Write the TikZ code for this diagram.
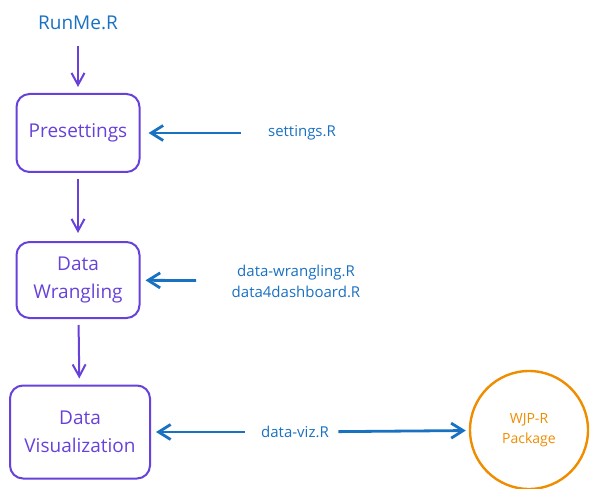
\documentclass[tikz,border=0pt]{standalone}
\usepackage{fontspec}
\setmainfont{Open Sans}
\usetikzlibrary{arrows.meta,positioning}
\definecolor{flowpurple}{HTML}{6741D9}
\definecolor{flowblue}{HTML}{1971C2}
\definecolor{floworange}{HTML}{F08C00}
\tikzstyle{stepnode}=[draw=flowpurple, text=flowpurple, line width=2pt, rounded corners=13pt, align=center, font=\fontsize{19}{28}\selectfont]
\tikzstyle{filenode}=[text=flowblue, align=center, font=\fontsize{15}{21}\selectfont]
\tikzstyle{pkgnode}=[draw=floworange, text=floworange, circle, line width=2.4pt, minimum size=118pt, align=center, font=\fontsize{14}{20}\selectfont]
\tikzstyle{stepFlow}=[line width=2pt, flowpurple, -{Straight Barb[length=12pt,width=13pt]}]
\tikzstyle{fileFlow}=[line width=2.8pt, flowblue, -{Straight Barb[length=12pt,width=15pt]}]

\begin{document}
\begin{tikzpicture}[x=1pt, y=-1pt]
    \useasboundingbox (0,0) rectangle (594,489);

    % nodes
    \node[text=flowblue, font=\fontsize{19}{25}\selectfont] (runme) at (78, 23) {RunMe.R};
    \node[stepnode, minimum width=123pt, minimum height=78pt] (presettings) at (78, 133) {Presettings};
    \node[stepnode, minimum width=123pt, minimum height=76pt] (wrangling) at (78, 280) {Data\\Wrangling};
    \node[stepnode, minimum width=140pt, minimum height=93pt] (visualization) at (80, 432) {Data\\Visualization};

    \node[filenode] (settings) at (302, 133) {settings.R};
    \node[filenode] (wranglingfiles) at (296, 281) {data-wrangling.R\\data4dashboard.R};
    \node[filenode] (vizfile) at (295, 432) {data-viz.R};
    \node[pkgnode] (wjpr) at (529, 430) {WJP-R\\Package};

    % Arcs
    \draw[stepFlow, shorten <=13pt, shorten >=6pt] (runme) -- (presettings);
    \draw[stepFlow, shorten <=6pt, shorten >=8pt] (presettings) -- (wrangling);
    \draw[stepFlow, shorten <=6pt, shorten >=6pt] (wrangling) -- (visualization);

    \draw[fileFlow, shorten <=24pt, shorten >=8pt] (settings) -- (presettings);
    \draw[fileFlow, shorten <=32pt, shorten >=5pt] (wranglingfiles) -- (wrangling);
    \draw[fileFlow, shorten <=13pt, shorten >=5pt] (vizfile) -- (visualization);
    \draw[fileFlow, shorten <=6pt, shorten >=3pt] (vizfile) -- (wjpr);

\end{tikzpicture}
\end{document}
